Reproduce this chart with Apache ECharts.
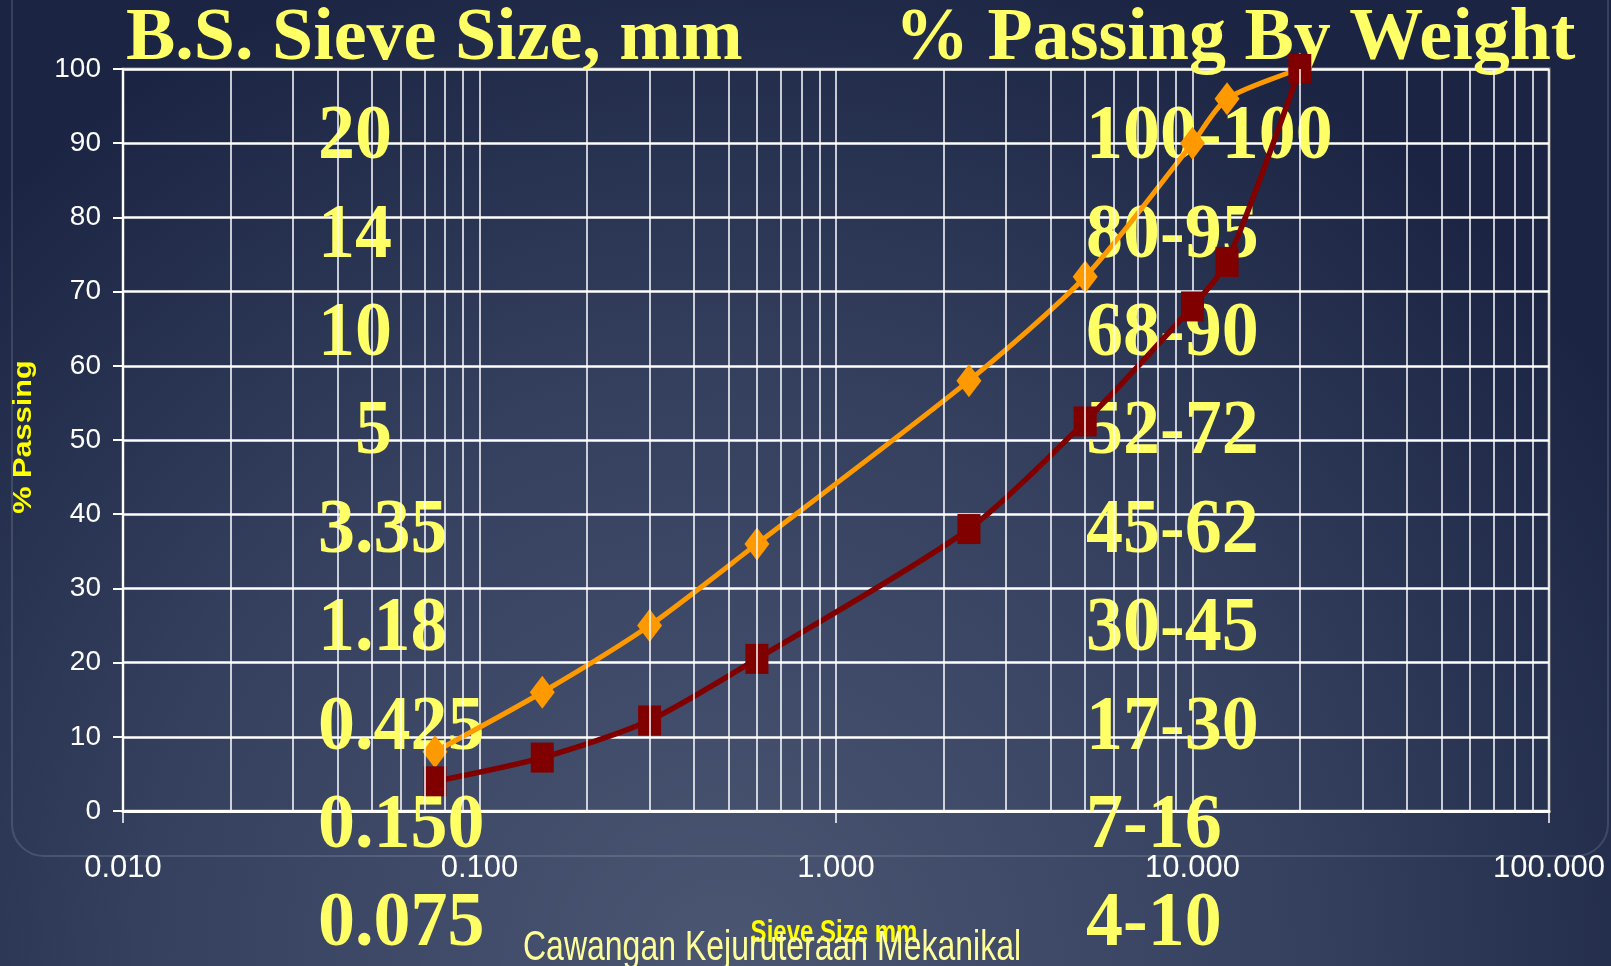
<!DOCTYPE html>
<html>
<head>
<meta charset="utf-8">
<title>Sieve grading</title>
<script src="https://cdn.jsdelivr.net/npm/echarts@6/dist/echarts.min.js"></script>
<style>
  html, body { margin: 0; padding: 0; background: #1c2645; }
  #main { width: 1611px; height: 966px; }
</style>
</head>
<body>
<div id="main"></div>
<script>
// sieve sizes (mm) and grading envelope
var sieveSizes = [0.075, 0.15, 0.3, 0.6, 2.36, 5, 10, 12.5, 20];
var upperLimit = [8, 16, 25, 36, 58, 72, 90, 96, 100];
var lowerLimit = [4, 7.2, 12.2, 20.5, 38, 52.5, 68, 74, 100];

// table written over the chart
var tableSizes = ["20", "14", "10", "\u20075", "3.35", "1.18", "0.425", "0.150", "0.075"];
var tablePassing = ["100-100", "80-95", "68-90", "52-72", "45-62", "30-45", "17-30", "7-16", "4-10"];

// minor gridlines of the log axis (2..9 in every decade)
var decades = [0.01, 0.1, 1, 10];
var minorSteps = [2, 3, 4, 5, 6, 7, 8, 9];

var myChart = echarts.init(document.getElementById("main"));

var minorLines = [];
decades.forEach(function (d) {
  minorSteps.forEach(function (s) {
    minorLines.push({ xAxis: +(d * s).toPrecision(3) });
  });
});

function pairs(ys) {
  return sieveSizes.map(function (x, i) { return [x, ys[i]]; });
}

var serifBig = 'bold 74px "Liberation Serif", "Times New Roman", serif';
var yellow = "#ffff66";

var graphics = [
  {
    type: "rect", z: 0, silent: true,
    shape: { x: 12, y: -40, width: 1596, height: 896, r: 32 },
    style: { fill: "none", stroke: "rgba(255,255,255,0.13)", lineWidth: 2 }
  },
  {
    type: "text", z: 1, x: 126, y: 40,
    style: { text: "B.S. Sieve Size, mm", fill: yellow, font: serifBig, verticalAlign: "middle" }
  },
  {
    type: "text", z: 1, x: 895, y: 40,
    style: { text: "% Passing By Weight", fill: yellow, font: serifBig, verticalAlign: "middle" }
  },
  {
    type: "text", z: 1, x: 24, y: 437, rotation: Math.PI / 2, scaleX: 1.18,
    style: {
      text: "% Passing", fill: "#ffff00", font: 'bold 26px "Liberation Sans", Arial, sans-serif',
      align: "center", verticalAlign: "middle"
    }
  },
  {
    type: "text", z: 1, x: 834, y: 933, scaleY: 1.3,
    style: {
      text: "Sieve Size mm", fill: "#ffff00", font: 'bold 24px "Liberation Sans", Arial, sans-serif',
      align: "center", verticalAlign: "middle"
    }
  },
  {
    type: "text", z: 1, x: 523, y: 949, scaleY: 1.3,
    style: {
      text: "Cawangan Kejuruteraan Mekanikal", fill: "#ffff99",
      font: '32px "Liberation Sans", Arial, sans-serif', verticalAlign: "middle"
    }
  }
];

tableSizes.forEach(function (t, i) {
  graphics.push({
    type: "text", z: 1, x: 318, y: 138 + i * 98.4, scaleY: 1.06,
    style: { text: t, fill: yellow, font: serifBig, verticalAlign: "middle" }
  });
});
tablePassing.forEach(function (t, i) {
  graphics.push({
    type: "text", z: 1, x: 1086, y: 138 + i * 98.4, scaleY: 1.06,
    style: { text: t, fill: yellow, font: serifBig, verticalAlign: "middle" }
  });
});

var sans = '"Liberation Sans", Arial, sans-serif';

option = {
  backgroundColor: new echarts.graphic.RadialGradient(0.45, 1.0, 1.1, [
    { offset: 0, color: "#4b5673" },
    { offset: 0.55, color: "#34405e" },
    { offset: 1, color: "#1b2543" }
  ]),
  animation: false,
  grid: {
    left: 123, right: 62, top: 69, bottom: 155,
    show: true, borderColor: "#8a8a8a", borderWidth: 3,
    backgroundColor: "transparent"
  },
  xAxis: {
    type: "log",
    logBase: 10,
    min: 0.01,
    max: 100,
    axisLine: { show: true, lineStyle: { color: "#ffffff", width: 3 } },
    axisTick: { show: true, inside: false, length: 12, lineStyle: { color: "#ffffff", width: 1.5 } },
    axisLabel: {
      color: "#ffffff", fontFamily: sans, fontSize: 31, margin: 42,
      formatter: function (v) { return Number(v).toFixed(3); }
    },
    splitLine: { show: true, lineStyle: { color: "#ffffff", width: 1.5 } }
  },
  yAxis: {
    type: "value",
    min: 0,
    max: 100,
    interval: 10,
    axisLine: { show: true, lineStyle: { color: "#ffffff", width: 2 } },
    axisTick: { show: true, inside: false, length: 10, lineStyle: { color: "#ffffff", width: 2 } },
    axisLabel: { color: "#ffffff", fontFamily: sans, fontSize: 28, margin: 22 },
    splitLine: { show: true, lineStyle: { color: "#ffffff", width: 2.5 } }
  },
  graphic: graphics,
  series: [
    {
      type: "line",
      name: "grid",
      z: 0,
      data: [],
      silent: true,
      markLine: {
        silent: true,
        symbol: "none",
        label: { show: false },
        lineStyle: { color: "#ffffff", width: 1.5, type: "solid" },
        data: minorLines
      }
    },
    {
      type: "line",
      name: "Upper limit",
      data: pairs(upperLimit),
      smooth: 0.25,
      symbol: "diamond",
      symbolSize: [25, 33],
      itemStyle: { color: "#ff9900" },
      lineStyle: { color: "#ff9900", width: 5 },
      z: 3
    },
    {
      type: "line",
      name: "Lower limit",
      data: pairs(lowerLimit),
      smooth: 0.25,
      symbol: "rect",
      symbolSize: [23, 30],
      itemStyle: { color: "#800000" },
      lineStyle: { color: "#800000", width: 5.5 },
      z: 4
    }
  ]
};

myChart.setOption(option);
window.addEventListener("resize", function () {
  myChart.resize();
});
</script>
</body>
</html>
